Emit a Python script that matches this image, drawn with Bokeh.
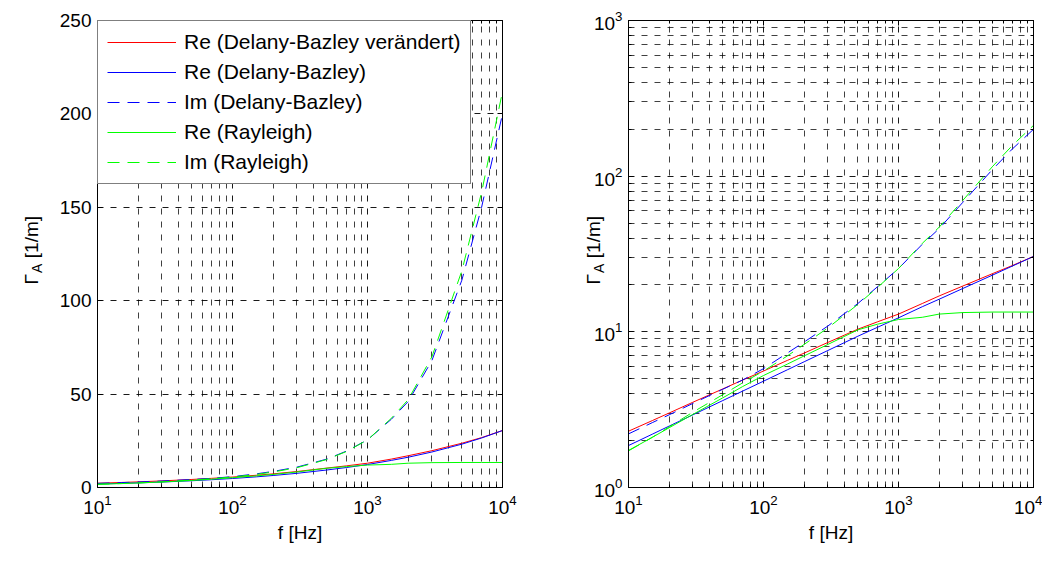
import math
from bokeh.plotting import figure
from bokeh.models import (LogAxis, LinearAxis, Label, Legend, LegendItem,
                          FixedTicker, Range1d, CustomJSTickFormatter)
from bokeh.layouts import row
from bokeh.embed import file_html
from bokeh.resources import INLINE

# ---------------- data ----------------
freq = [10, 15, 20, 30, 50, 70, 100, 150, 200, 300, 500, 700,
        1000, 1500, 2000, 3000, 5000, 7000, 10000]
re_db_mod = [2.30, 2.69, 3.01, 3.53, 4.30, 4.90, 5.60, 6.55, 7.30, 8.55, 10.4, 11.6,
             13.0, 15.2, 17.0, 19.7, 23.7, 26.7, 30.5]
re_db = [1.86, 2.20, 2.48, 2.93, 3.62, 4.16, 4.82, 5.70, 6.42, 7.59, 9.37, 10.7,
         12.3, 14.5, 16.2, 19.0, 23.2, 26.5, 30.5]
im_db = [2.21, 2.61, 2.93, 3.47, 4.28, 4.90, 5.80, 7.30, 8.60, 10.9, 15.2, 19.5,
         25.5, 36.5, 46.0, 68.0, 111.0, 150.0, 200.0]
re_ray = [1.73, 2.10, 2.42, 2.95, 3.77, 4.45, 5.24, 6.20, 7.00, 8.30, 10.3, 11.2,
          12.0, 12.4, 13.0, 13.3, 13.4, 13.4, 13.4]
im_ray = [1.72, 2.10, 2.45, 3.05, 3.95, 4.70, 5.60, 7.00, 8.30, 10.6, 15.0, 19.3,
          25.5, 37.0, 47.0, 70.0, 116.0, 158.0, 212.0]

legend_labels = ["Re (Delany-Bazley verändert)", "Re (Delany-Bazley)",
                 "Im (Delany-Bazley)", "Re (Rayleigh)", "Im (Rayleigh)"]

x_major = [10, 100, 1000, 10000]
x_minor = [m * 10 ** k for k in range(1, 4) for m in range(2, 10)]
y_log_major = [1, 10, 100, 1000]
y_log_minor = [m * 10 ** k for k in range(0, 3) for m in range(2, 10)]
y_lin_major = [0, 50, 100, 150, 200, 250]

FONT = "Liberation Sans"
FS = "19px"
FW, FH = 405, 467
TOP, BOTTOM = 20, 70


def style_axis(ax):
    ax.axis_line_color = "black"
    ax.axis_line_width = 1
    ax.major_tick_in = 5
    ax.major_tick_out = 0
    ax.minor_tick_in = 3
    ax.minor_tick_out = 0
    ax.major_tick_line_color = "black"
    ax.minor_tick_line_color = "black"
    ax.major_label_text_font = FONT
    ax.major_label_text_font_size = FS
    ax.major_label_text_color = "black"
    ax.axis_label_text_font = FONT
    ax.axis_label_text_font_size = FS
    ax.axis_label_text_font_style = "normal"
    ax.axis_label_text_color = "black"


def blank_axis(ax):
    style_axis(ax)
    ax.formatter = CustomJSTickFormatter(code="return ''")
    ax.major_label_text_font_size = "1px"
    ax.major_label_standoff = 0


def make_fig(ylog, left_border, right_border):
    p = figure(frame_width=FW, frame_height=FH,
               x_axis_type="log", y_axis_type="log" if ylog else "linear",
               x_range=Range1d(10, 1e4),
               y_range=Range1d(1, 1e3) if ylog else Range1d(0, 250),
               output_backend="svg", toolbar_location=None,
               min_border_left=left_border, min_border_right=right_border,
               min_border_top=TOP, min_border_bottom=BOTTOM)
    p.outline_line_color = "black"
    p.background_fill_color = "white"
    p.border_fill_color = "white"

    xt = FixedTicker(ticks=x_major, minor_ticks=x_minor)
    if ylog:
        yt = FixedTicker(ticks=y_log_major, minor_ticks=y_log_minor)
    else:
        yt = FixedTicker(ticks=y_lin_major, minor_ticks=[])

    p.xaxis.ticker = xt
    p.yaxis.ticker = yt
    style_axis(p.xaxis[0])
    style_axis(p.yaxis[0])
    p.xaxis.axis_label = "f [Hz]"
    p.xaxis.major_label_standoff = 7
    p.xaxis.axis_label_standoff = 5
    p.yaxis.major_label_standoff = 6

    top = LogAxis(ticker=xt)
    blank_axis(top)
    p.add_layout(top, "above")
    right = LogAxis(ticker=yt) if ylog else LinearAxis(ticker=yt)
    blank_axis(right)
    p.add_layout(right, "right")

    for g in (p.xgrid[0], p.ygrid[0]):
        g.grid_line_color = "black"
        g.grid_line_dash = "6 7"
        g.grid_line_alpha = 0.9
    p.xgrid.minor_grid_line_color = "black"
    p.xgrid.minor_grid_line_dash = "6 7"
    p.xgrid.minor_grid_line_alpha = 0.75
    if ylog:
        p.ygrid.minor_grid_line_color = "black"
        p.ygrid.minor_grid_line_dash = "6 7"
        p.ygrid.minor_grid_line_alpha = 0.75

    r1 = p.line(freq, re_db_mod, line_color="#ff0000", line_width=1)
    r2 = p.line(freq, re_db, line_color="#0000ff", line_width=1)
    r3 = p.line(freq, im_db, line_color="#0000ff", line_width=1, line_dash="12 8")
    r4 = p.line(freq, re_ray, line_color="#00ff00", line_width=1)
    r5 = p.line(freq, im_ray, line_color="#00ff00", line_width=1, line_dash="12 8")
    return p, [r1, r2, r3, r4, r5]


def add_ylabel(p, base_x, y0):
    # canvas units (y grows downwards); rotated text runs bottom -> top
    common = dict(x_units="canvas", y_units="canvas", angle=math.pi / 2,
                  text_align="left", text_baseline="alphabetic",
                  text_color="black")
    p.add_layout(Label(x=base_x, y=y0, text="Γ\u00a0\u00a0\u00a0[1/m]",
                       text_font=FONT, text_font_size=FS, **common), "left")
    p.add_layout(Label(x=base_x + 5, y=y0 - 11.5, text="A",
                       text_font=FONT, text_font_size="14px", **common), "left")


p1, rs = make_fig(False, 97, 30)
p2, _ = make_fig(True, 96, 9)

legend = Legend(items=[LegendItem(label=l, renderers=[r]) for l, r in zip(legend_labels, rs)],
                location="top_left")
legend.margin = 0
legend.padding = 9
legend.spacing = 6
legend.glyph_width = 69
legend.glyph_height = 20
legend.label_height = 20
legend.label_standoff = 8
legend.label_text_font = FONT
legend.label_text_font_size = "21px"
legend.label_text_color = "black"
legend.border_line_color = "black"
legend.border_line_width = 1
legend.background_fill_color = "white"
legend.background_fill_alpha = 1.0
p1.add_layout(legend)

add_ylabel(p1, 31, 284)
add_ylabel(p2, 61, 284)

layout = row(p1, p2)
layout.spacing = 0
open("out.html", "w").write(file_html(layout, INLINE))
